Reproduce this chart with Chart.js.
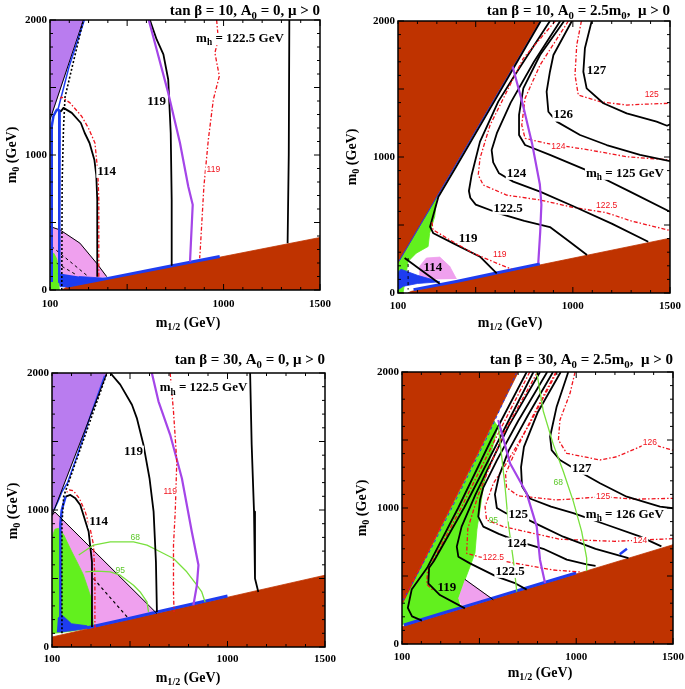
<!DOCTYPE html>
<html>
<head>
<meta charset="utf-8">
<script src="https://cdn.jsdelivr.net/npm/chart.js@4.4.0/dist/chart.umd.min.js"></script>
<style>
  body { margin: 0; background: #fff; width: 685px; height: 689px; position: relative; overflow: hidden; }
  canvas { position: absolute; display: block; }
</style>
</head>
<body>
<canvas id="c1" width="342" height="342" style="left:0;top:0"></canvas>
<canvas id="c2" width="343" height="342" style="left:342px;top:0"></canvas>
<canvas id="c3" width="342" height="344" style="left:0;top:345px"></canvas>
<canvas id="c4" width="343" height="344" style="left:342px;top:345px"></canvas>
<script>
// axis ranges and tick labels (m1/2, m0 in GeV)
const xTickLabels = [100, 1000, 1500];
const yTickLabels = [0, 1000, 2000];

// ---- panel 1: tan beta = 10, A0 = 0 ----
const p1Brown = [[160,0],[186,20],[1500,389],[1500,0]];
const p1Violet = [[100,1262],[273,2000],[100,2000]];
const p1Pink = [[100,470],[152,445],[255,347],[342,198],[394,99],[300,80],[200,65],[100,55]];
const p1Green = [[100,0],[100,220],[110,265],[120,272],[135,230],[145,150],[148,0]];
const p1BlueWedge = [[143,124],[152,25],[186,22],[411,85],[250,100]];
const p1BlueEdge = [[186,27],[400,86],[700,170],[900,226],[980,248]];
const p1BlueLoop = [[109,60],[109,1213],[118,1290],[135,1335],[150,1330],[148,60]];
const p1BlueUp = [[140,1330],[200,1660],[278,2000]];
const p1VioletEdge = [[100,1262],[273,2000]];
const p1PinkEdge = [[100,470],[152,445],[255,347],[342,198],[394,99]];
const p1Dotted = [[161,0],[163,800],[170,1200],[178,1430],[273,2000]];
const p1Dash1 = [[109,322],[299,99]];
const p1Dash2 = [[135,198],[238,111]];
const p1Mh114 = [[345,99],[345,668],[340,850],[330,965],[305,1089],[280,1163],[260,1237],[213,1312],[170,1349],[155,1320]];
const p1Red114 = [[353,99],[353,668],[350,800],[345,916],[333,1089],[299,1200],[264,1287],[204,1386],[160,1430],[148,1411]];
const p1Mh119 = [[618,2000],[630,1950],[653,1856],[688,1745],[713,1559],[726,1163],[731,668],[731,186]];
const p1Chi = [[612,2000],[653,1782],[713,1460],[774,1089],[817,767],[840,631],[826,210]];
const p1Red119 = [[964,2000],[973,1856],[955,1757],[978,1584],[947,1411],[921,1114],[898,767],[878,272],[876,235]];
const p1Mh1225 = [[1341,2000],[1338,1000],[1332,347]];
const p1Labels = [
  ['m_h = 122.5 GeV', 1085, 1861, 'kb'], ['119', 653, 1398, 'kb'], ['114', 394, 879, 'kb'], ['119', 947, 891, 'r']
];

// ---- panel 2: tan beta = 10, A0 = 2.5 m0 ----
const p2BrownTop = [[100,220],[830,2000],[100,2000]];
const p2BrownBot = [[150,0],[169,12],[1500,403],[1500,0]];
const p2Green = [[100,0],[100,220],[306,722],[298,680],[289,562],[263,440],[255,342],[194,293],[152,232],[126,0]];
const p2Pink = [[212,98],[212,196],[246,257],[315,264],[366,196],[401,103]];
const p2BlueWedge = [[100,20],[100,150],[115,175],[200,130],[316,82],[200,70],[130,50]];
const p2BlueEdge = [[180,25],[400,85],[600,145],[830,214]];
const p2BlueTop = [[104,232],[833,2000]];
const p2Mh114 = [[134,257],[315,68]];
const p2Dash = [[152,257],[152,25]];
const p2Mh119 = [[835,2000],[600,1420],[400,930],[308,708],[265,487],[282,439],[385,365],[522,267],[608,145]];
const p2Red119 = [[275,520],[280,465],[366,391],[486,293],[607,220],[684,176]];
const p2Mh1225 = [[882,2000],[700,1600],[616,1407],[522,1113],[479,868],[465,750],[472,700],[500,650],[615,588],[750,530],[882,485],[980,380],[1073,279]];
const p2Red1225 = [[910,2000],[745,1725],[574,1235],[522,990],[513,868],[539,794],[659,720],[831,684],[1000,630],[1174,590],[1300,530],[1500,460]];
const p2Mh124 = [[935,2000],[800,1700],[680,1400],[610,1180],[582,1051],[590,960],[620,880],[693,819],[831,745],[1000,640],[1200,510],[1388,377]];
const p2Mh125 = [[955,2000],[831,1750],[745,1505],[723,1309],[723,1162],[754,1088],[882,1015],[1088,892],[1294,745],[1500,598]];
const p2Red124 = [[977,2000],[831,1676],[754,1431],[737,1235],[754,1137],[865,1100],[1088,1051],[1277,1002],[1500,978]];
const p2Mh126 = [[995,2000],[900,1750],[882,1627],[865,1480],[874,1333],[917,1260],[1037,1162],[1174,1088],[1346,1015],[1500,970]];
const p2Red125 = [[1044,2000],[1020,1824],[1011,1603],[1028,1456],[1140,1407],[1277,1382],[1400,1390],[1500,1395]];
const p2Mh127 = [[1097,2000],[1062,1799],[1054,1627],[1071,1505],[1157,1395],[1277,1321],[1431,1260],[1485,1230],[1500,1240]];
const p2Chi = [[690,1665],[740,1400],[790,1100],[830,800],[838,650],[832,450],[822,220]];
const p2Labels = [
  ['127', 1122, 1638, 'kb'], ['126', 950, 1308, 'kb'], ['124', 710, 880, 'kb'], ['m_h = 125 GeV', 1268, 880, 'kb'],
  ['122.5', 667, 623, 'kb'], ['119', 461, 403, 'kb'], ['114', 280, 183, 'k'],
  ['125', 1406, 1455, 'r'], ['124', 925, 1076, 'r'], ['122.5', 1174, 641, 'r'], ['119', 624, 281, 'r']
];

// ---- panel 3: tan beta = 30, A0 = 0 ----
const p3Brown = [[100,0],[100,73],[1500,524],[1500,0]];
const p3Violet = [[100,960],[382,2000],[100,2000]];
const p3Pink = [[100,960],[115,985],[638,244],[313,150],[100,110]];
const p3Green = [[100,95],[100,800],[115,860],[134,866],[160,820],[177,768],[200,700],[228,622],[260,530],[279,451],[300,360],[313,146],[200,115],[110,100]];
const p3BlueBlob = [[130,210],[150,235],[200,170],[280,155],[285,135],[150,110],[125,110]];
const p3BlueEdge = [[280,140],[500,210],[700,275],[900,340],[1000,372]];
const p3BlueVert = [[143,120],[143,900],[150,1000],[170,1100]];
const p3BlueUp = [[110,1000],[130,1060],[150,1130],[180,1200],[230,1400],[300,1700],[370,1980]];
const p3VioletEdge = [[100,960],[382,2000]];
const p3PinkEdge = [[100,960],[115,985],[638,244]];
const p3Dotted = [[151,100],[151,900],[160,1100],[382,2000]];
const p3Dash = [[313,500],[493,207]];
const p3Mh114 = [[305,146],[305,622],[288,841],[262,960],[245,1037],[220,1085],[194,1110],[170,1098]];
const p3Red114 = [[320,135],[320,500],[313,744],[295,870],[270,990],[240,1085],[210,1140],[190,1146],[175,1130]];
const p3Mh119 = [[399,2000],[450,1915],[510,1768],[535,1671],[569,1476],[600,1232],[621,988],[633,622],[638,256]];
const p3Chi = [[612,2000],[646,1793],[706,1549],[766,1232],[817,841],[851,598],[843,451],[825,305]];
const p3Red119 = [[706,2000],[723,1720],[740,1354],[732,988],[723,744],[723,400],[726,256]];
const p3Mh1225 = [[1116,2000],[1124,1476],[1136,988],[1141,500],[1158,402]];
const p3Cl68 = [[237,671],[313,744],[399,768],[518,768],[587,744],[655,695],[723,646],[791,549],[843,451],[868,402],[885,329]];
const p3Cl95 = [[271,549],[330,554],[399,549],[450,524],[518,451],[552,402],[587,329],[595,256]];
const p3Labels = [
  ['m_h = 122.5 GeV', 877, 1890, 'kb'], ['119', 518, 1427, 'kb'], ['114', 339, 915, 'kb'],
  ['119', 706, 1134, 'r'], ['68', 527, 798, 'g'], ['95', 450, 554, 'g']
];

// ---- panel 4: tan beta = 30, A0 = 2.5 m0 ----
const p4BrownTop = [[100,290],[701,2000],[100,2000]];
const p4BrownBot = [[100,0],[100,127],[1500,730],[1500,0]];
const p4Green = [[100,140],[100,290],[575,1640],[595,1600],[560,1400],[520,1150],[487,840],[477,669],[451,568],[425,471],[391,336],[400,274],[380,250],[200,175]];
const p4Pink = [[425,475],[572,325],[408,285],[392,340]];
const p4PinkEdge = [[425,475],[572,325]];
const p4BlueEdge = [[110,140],[300,222],[500,308],[700,394],[900,480],[1000,523]];
const p4BlueTop = [[105,320],[250,700],[400,1120],[550,1550],[690,1990]];
const p4BlueTick = [[1225,660],[1262,700]];
const p4RedOuter = [[110,335],[260,750],[420,1200],[560,1600]];
const p4MhLow = [[744,2000],[560,1500],[390,1000],[230,560],[150,400],[130,265],[152,203],[203,172]];
const p4Mh119 = [[779,2000],[600,1500],[420,1000],[265,610],[240,560],[236,446],[296,360],[425,262]];
const p4Red119 = [[760,2000],[580,1500],[405,1000],[255,600],[232,540],[228,440],[262,392]];
const p4Mh1225 = [[813,2000],[650,1600],[480,1100],[408,863],[383,716],[391,642],[451,593],[589,495],[680,450],[744,400]];
const p4Red1225 = [[800,2000],[625,1550],[495,1100],[440,850],[434,667],[500,640],[589,618],[700,590],[882,544],[1019,530]];
const p4Mh124 = [[850,2000],[700,1640],[590,1350],[520,1150],[503,1059],[494,936],[520,863],[600,810],[700,755],[830,700],[951,620],[1054,585],[1100,575]];
const p4Red124 = [[900,2000],[760,1620],[640,1330],[572,1181],[529,1010],[537,912],[623,863],[916,770],[1200,755],[1500,775]];
const p4Mh125 = [[880,2000],[750,1680],[650,1420],[600,1230],[580,1100],[590,1000],[640,960],[701,949],[800,880],[933,789],[1100,700],[1270,632]];
const p4Red125 = [[895,2000],[770,1660],[680,1400],[635,1250],[640,1150],[700,1090],[899,1059],[1140,1083],[1300,1065],[1500,1071]];
const p4Mh126 = [[920,2000],[800,1700],[730,1450],[715,1300],[720,1160],[760,1070],[870,1010],[985,963],[1157,877],[1328,791],[1440,718]];
const p4Mh127 = [[959,2000],[899,1745],[865,1524],[873,1426],[916,1353],[1002,1279],[1123,1182],[1261,1083],[1433,1010],[1500,998]];
const p4Red126 = [[994,2000],[968,1843],[916,1647],[908,1500],[951,1402],[1123,1353],[1209,1377],[1372,1476],[1500,1425]];
const p4Cl68 = [[796,2000],[830,1711],[882,1466],[933,1270],[985,1049],[1028,828],[1054,632],[1054,540]];
const p4Cl95 = [[598,1600],[633,1147],[650,877],[676,608],[693,385]];
const p4Chi = [[597,1647],[658,1329],[744,1108],[796,863],[813,618],[839,449]];
const p4Labels = [
  ['119', 332, 412, 'k'], ['122.5', 658, 534, 'kb'], ['124', 693, 740, 'kb'], ['125', 701, 949, 'kb'],
  ['m_h = 126 GeV', 1251, 951, 'kb'], ['127', 1028, 1292, 'kb'],
  ['122.5', 572, 632, 'r'], ['124', 1330, 760, 'r'], ['125', 1139, 1086, 'r'], ['126', 1380, 1478, 'r'],
  ['95', 572, 907, 'g'], ['68', 907, 1184, 'g']
];

// colours and styles
const BROWN = '#bf3300', VIOLET = '#b97cef', PINK = '#efa0ee', GREEN = '#62f01e', BLUE = '#1e3cf0';
const CHI = '#a445e8', RED = '#f0141e', GLINE = '#78e03c', BLACK = '#000';
const DASHDOT = [4, 2, 1.5, 2], DOT = [2, 2], DASH = [3, 3];
const SERIF = '"Liberation Serif", "DejaVu Serif", serif';
const SANS = '"Liberation Sans", Arial, sans-serif';

const area = (d, c) => ({ d, fill: c });
const line = (d, c, w, dash) => ({ d, c, w, dash });

const panels = [
  {
    id: 'c1', title: 'tan β = 10, A_0 = 0, μ > 0',
    box: { left: 50, top: 20, right: 22, xh: 52, pad: 8 },
    titlePos: [320, 11], xTitle: [188, 323], yTitle: [12, 155],
    layers: [
      area(p1Violet, VIOLET), area(p1Pink, PINK), area(p1Green, GREEN), area(p1BlueWedge, BLUE),
      area(p1Brown, BROWN), line(p1BlueEdge, BLUE, 3), line(p1PinkEdge, BLACK, 1), line(p1VioletEdge, BLACK, 1),
      line(p1Dash1, BLACK, 1, DASH), line(p1Dash2, BLACK, 1, DASH), line(p1BlueLoop, BLUE, 2.5),
      line(p1BlueUp, BLUE, 1.5), line(p1Dotted, BLACK, 1.6, DOT),
      line(p1Mh114, BLACK, 1.8), line(p1Red114, RED, 1.3, DASHDOT), line(p1Mh119, BLACK, 1.8),
      line(p1Chi, CHI, 2.2), line(p1Red119, RED, 1.3, DASHDOT), line(p1Mh1225, BLACK, 1.8)
    ],
    labels: p1Labels
  },
  {
    id: 'c2', title: 'tan β = 10, A_0 = 2.5m_0,  μ > 0',
    box: { left: 56, top: 21, right: 15, xh: 49, pad: 7 },
    titlePos: [328, 11], xTitle: [168, 323], yTitle: [10, 157],
    layers: [
      area(p2Green, GREEN), area(p2Pink, PINK), area(p2BlueWedge, BLUE), area(p2BrownTop, BROWN),
      area(p2BrownBot, BROWN), line(p2BlueEdge, BLUE, 3), line(p2BlueTop, BLUE, 1),
      line(p2Dash, BLACK, 1, DASH), line(p2Mh114, BLACK, 1.8),
      line(p2Mh119, BLACK, 1.8), line(p2Red119, RED, 1.3, DASHDOT), line(p2Mh1225, BLACK, 1.8),
      line(p2Red1225, RED, 1.3, DASHDOT), line(p2Mh124, BLACK, 1.8), line(p2Mh125, BLACK, 1.8),
      line(p2Red124, RED, 1.3, DASHDOT), line(p2Mh126, BLACK, 1.8), line(p2Red125, RED, 1.3, DASHDOT),
      line(p2Mh127, BLACK, 1.8), line(p2Chi, CHI, 2.2)
    ],
    labels: p2Labels
  },
  {
    id: 'c3', title: 'tan β = 30, A_0 = 0, μ > 0',
    box: { left: 52, top: 28, right: 17, xh: 42, pad: 6 },
    titlePos: [325, 15], xTitle: [188, 333], yTitle: [13, 166],
    layers: [
      area(p3Violet, VIOLET), area(p3Pink, PINK), area(p3Green, GREEN), area(p3BlueBlob, BLUE),
      area(p3Brown, BROWN), line(p3BlueEdge, BLUE, 3), line(p3BlueVert, BLUE, 2.5), line(p3BlueUp, BLUE, 1.5),
      line(p3VioletEdge, BLACK, 1), line(p3PinkEdge, BLACK, 1), line(p3Dash, BLACK, 1.2, DASH),
      line(p3Dotted, BLACK, 1.6, DOT), line(p3Mh114, BLACK, 1.8), line(p3Red114, RED, 1.3, DASHDOT),
      line(p3Cl68, GLINE, 1.3), line(p3Cl95, GLINE, 1.3),
      line(p3Mh119, BLACK, 1.8), line(p3Chi, CHI, 2.2), line(p3Red119, RED, 1.3, DASHDOT), line(p3Mh1225, BLACK, 1.8)
    ],
    labels: p3Labels
  },
  {
    id: 'c4', title: 'tan β = 30, A_0 = 2.5m_0,  μ > 0',
    box: { left: 60, top: 27, right: 12, xh: 45, pad: 7 },
    titlePos: [331, 15], xTitle: [198, 328], yTitle: [20, 163],
    layers: [
      area(p4Green, GREEN), area(p4Pink, PINK), area(p4BrownTop, BROWN), area(p4BrownBot, BROWN),
      line(p4BlueEdge, BLUE, 3), line(p4BlueTop, BLUE, 1, DASH), line(p4BlueTick, BLUE, 2.5),
      line(p4RedOuter, RED, 1.2, DASHDOT), line(p4PinkEdge, BLACK, 1),
      line(p4MhLow, BLACK, 1.8), line(p4Red119, RED, 1.3, DASHDOT), line(p4Mh119, BLACK, 1.8),
      line(p4Mh1225, BLACK, 1.8), line(p4Red1225, RED, 1.3, DASHDOT), line(p4Mh124, BLACK, 1.8),
      line(p4Red124, RED, 1.3, DASHDOT), line(p4Mh125, BLACK, 1.8), line(p4Red125, RED, 1.3, DASHDOT),
      line(p4Mh126, BLACK, 1.8), line(p4Mh127, BLACK, 1.8), line(p4Red126, RED, 1.3, DASHDOT),
      line(p4Cl68, GLINE, 1.3), line(p4Cl95, GLINE, 1.3), line(p4Chi, CHI, 2.2)
    ],
    labels: p4Labels
  }
];

const labelStyles = {
  k: { size: 13, weight: 'bold', family: SERIF, color: '#000', bg: false },
  kb: { size: 13, weight: 'bold', family: SERIF, color: '#000', bg: true },
  r: { size: 8.5, weight: 'normal', family: SANS, color: RED, bg: true },
  g: { size: 8.5, weight: 'normal', family: SANS, color: '#5cc82a', bg: false }
};

// text with "_x" subscripts
function drawRich(ctx, text, x, y, st) {
  const parts = text.split(/_([^\s,]+)/);
  const font = (sub) => `${st.weight} ${sub ? st.size * 0.72 : st.size}px ${st.family}`;
  let w = 0;
  const ws = parts.map((p, i) => { ctx.font = font(i % 2); const m = ctx.measureText(p).width; w += m; return m; });
  ctx.save();
  ctx.translate(x, y);
  if (st.rotate) ctx.rotate(-Math.PI / 2);
  let sx = st.align === 'right' ? -w : -w / 2;
  if (st.bg) {
    ctx.fillStyle = '#fff';
    ctx.fillRect(sx - 1, -st.size * 0.45, w + 2, st.size * 0.95);
  }
  ctx.fillStyle = st.color;
  ctx.textBaseline = 'middle';
  parts.forEach((p, i) => {
    ctx.font = font(i % 2);
    ctx.fillText(p, sx, i % 2 ? st.size * 0.32 : 0);
    sx += ws[i];
  });
  ctx.restore();
}

function decorFor(P) {
  return {
    id: 'decor',
    afterDatasetsDraw(chart) {
      const { ctx, chartArea: a, scales: { x, y } } = chart;
      ctx.save();
      ctx.beginPath();
      ctx.rect(a.left, a.top, a.right - a.left, a.bottom - a.top);
      ctx.clip();
      P.labels.forEach(([t, m, m0, k]) => drawRich(ctx, t, x.getPixelForValue(m), y.getPixelForValue(m0), labelStyles[k]));
      ctx.restore();

      // frame with inward ticks on all sides
      ctx.save();
      ctx.strokeStyle = '#000';
      ctx.lineWidth = 1.5;
      ctx.strokeRect(a.left, a.top, a.right - a.left, a.bottom - a.top);
      ctx.lineWidth = 1;
      ctx.beginPath();
      for (let v = 100; v <= 1500; v += 100) {
        const px = x.getPixelForValue(v), len = v % 500 === 0 ? 6 : 3;
        ctx.moveTo(px, a.bottom); ctx.lineTo(px, a.bottom - len);
        ctx.moveTo(px, a.top); ctx.lineTo(px, a.top + len);
      }
      for (let v = 0; v <= 2000; v += 100) {
        const py = y.getPixelForValue(v), len = v % 500 === 0 ? 6 : 3;
        ctx.moveTo(a.left, py); ctx.lineTo(a.left + len, py);
        ctx.moveTo(a.right, py); ctx.lineTo(a.right - len, py);
      }
      ctx.stroke();
      ctx.restore();

      const big = { size: 14, weight: 'bold', family: SERIF, color: '#000' };
      drawRich(ctx, P.title, P.titlePos[0], P.titlePos[1], { ...big, size: 15, align: 'right' });
      drawRich(ctx, 'm_1/2 (GeV)', P.xTitle[0], P.xTitle[1], big);
      drawRich(ctx, 'm_0 (GeV)', P.yTitle[0], P.yTitle[1], { ...big, rotate: true });
    }
  };
}

panels.forEach((P) => {
  const n = P.layers.length;
  const datasets = P.layers.map((L, i) => ({
    data: L.d.map(([x, y]) => ({ x, y })),
    order: n - i,
    pointRadius: 0,
    tension: 0,
    fill: L.fill ? 'shape' : false,
    backgroundColor: L.fill || 'transparent',
    borderColor: L.fill || L.c,
    borderWidth: L.fill ? 0.8 : L.w,
    borderDash: L.dash || [],
    borderCapStyle: 'butt',
    borderJoinStyle: 'round'
  }));
  const tickFont = { family: SERIF, size: 11, weight: 'bold' };
  new Chart(document.getElementById(P.id), {
    type: 'line',
    data: { datasets },
    options: {
      responsive: false,
      animation: false,
      devicePixelRatio: 1,
      events: [],
      layout: { padding: { top: P.box.top, right: P.box.right, left: 0, bottom: 0 } },
      plugins: { legend: { display: false }, tooltip: { enabled: false } },
      scales: {
        x: {
          type: 'linear', min: 100, max: 1500,
          grid: { display: false, drawTicks: false },
          border: { display: false },
          ticks: {
            stepSize: 100, autoSkip: false, maxRotation: 0, padding: P.box.pad,
            color: '#000', font: tickFont,
            callback: (v) => (xTickLabels.includes(v) ? String(v) : '')
          },
          afterFit: (s) => { s.height = P.box.xh; s.paddingLeft = 0; s.paddingRight = 0; }
        },
        y: {
          type: 'linear', min: 0, max: 2000,
          grid: { display: false, drawTicks: false },
          border: { display: false },
          ticks: {
            stepSize: 100, autoSkip: false, padding: 3,
            color: '#000', font: tickFont,
            callback: (v) => (yTickLabels.includes(v) ? String(v) : '')
          },
          afterFit: (s) => { s.width = P.box.left; s.paddingTop = 0; s.paddingBottom = 0; }
        }
      }
    },
    plugins: [decorFor(P)]
  });
});
</script>
</body>
</html>
